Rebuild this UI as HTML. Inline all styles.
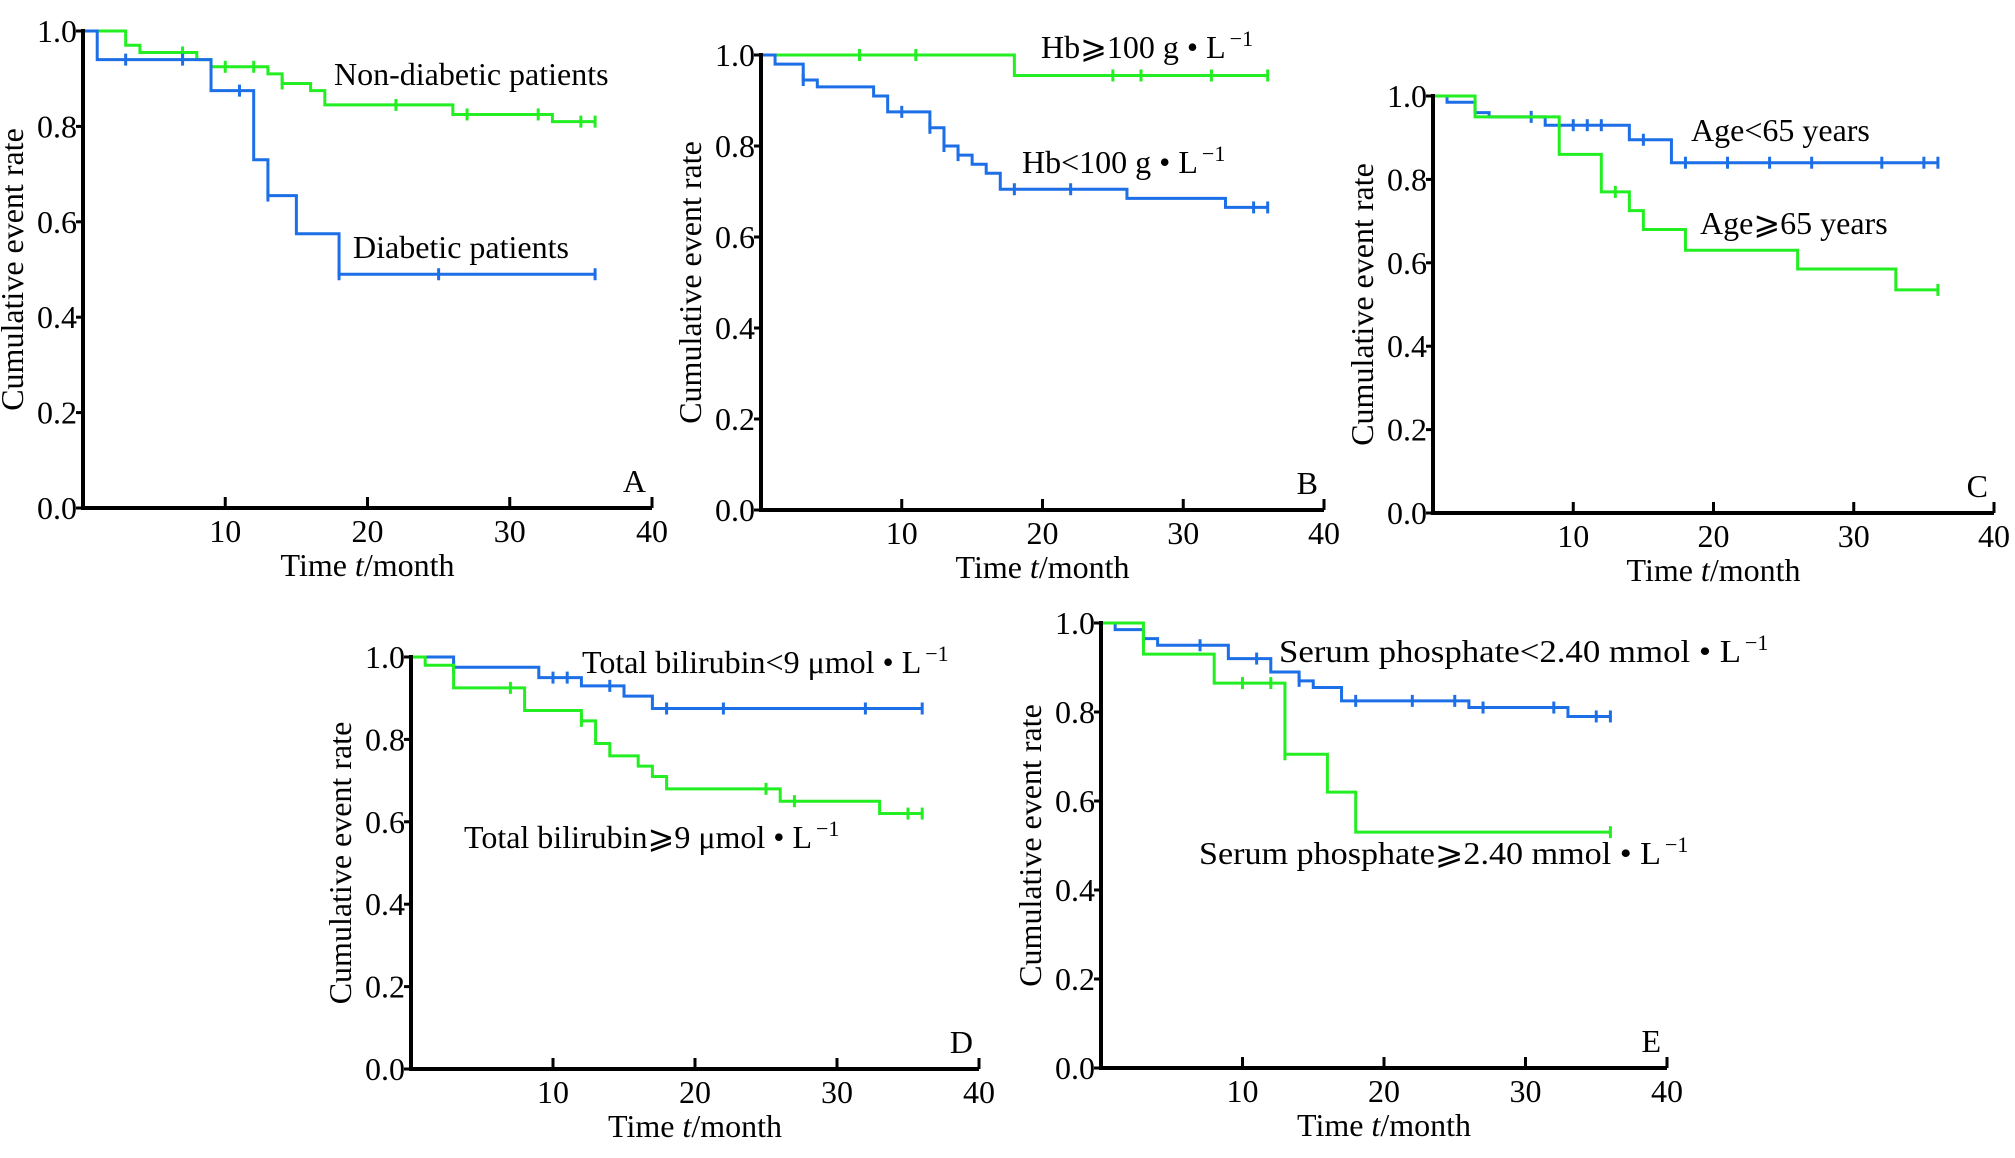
<!DOCTYPE html>
<html><head><meta charset="utf-8"><style>
html,body{margin:0;padding:0;background:#fff;}
svg{display:block;font-family:"Liberation Serif","DejaVu Serif",serif;}
</style></head><body>
<svg id="fig" width="2015" height="1158" viewBox="0 0 2015 1158" xmlns="http://www.w3.org/2000/svg"></svg>
<script>
// ---- data (time in months, rate) ----
const xTicks=[10,20,30,40];
const yTicks=[0,0.2,0.4,0.6,0.8,1.0];
const yTickLabels=["0.0","0.2","0.4","0.6","0.8","1.0"];
// Panel A
const aNonT=[0,3,4,8,9,13,14,16,17,26,33,36];
const aNonV=[1.0,0.97,0.955,0.94,0.925,0.91,0.89,0.875,0.845,0.825,0.81,0.81];
const aNonC=[7,10,12,14,22,27,32,35,36];
const aDiaT=[0,1,9,12,13,15,18,36];
const aDiaV=[1.0,0.94,0.875,0.73,0.655,0.575,0.49,0.49];
const aDiaC=[3,7,11,13,18,25,36];
// Panel B
const bHiT=[0,18,36];
const bHiV=[1.0,0.955,0.955];
const bHiC=[7,11,25,27,32,36];
const bLoT=[0,1,3,4,8,9,12,13,14,15,16,17,26,33,36];
const bLoV=[1.0,0.98,0.945,0.93,0.91,0.875,0.84,0.80,0.78,0.76,0.74,0.705,0.685,0.665,0.665];
const bLoC=[3,10,12,13,14,18,22,35,36];
// Panel C
const cYoungT=[0,1,3,4,8,14,17,36];
const cYoungV=[1.0,0.985,0.96,0.95,0.93,0.895,0.84,0.84];
const cYoungC=[7,10,11,12,15,18,21,24,27,32,35,36];
const cOldT=[0,3,9,12,14,15,18,26,33,36];
const cOldV=[1.0,0.95,0.86,0.77,0.725,0.68,0.63,0.585,0.535,0.535];
const cOldC=[13,36];
// Panel D
const dLoT=[0,3,9,12,15,17,36];
const dLoV=[1.0,0.975,0.95,0.93,0.905,0.875,0.875];
const dLoC=[3,10,11,14,18,22,32,36];
const dHiT=[0,1,3,8,12,13,14,16,17,18,26,33,36];
const dHiV=[1.0,0.98,0.925,0.87,0.845,0.79,0.76,0.735,0.71,0.68,0.65,0.62,0.62];
const dHiC=[7,12,25,27,35,36];
// Panel E
const eLoT=[0,1,3,4,9,12,14,15,17,26,33,36];
const eLoV=[1.0,0.985,0.965,0.95,0.92,0.89,0.87,0.855,0.825,0.81,0.79,0.79];
const eLoC=[3,7,11,14,18,22,25,27,32,35,36];
const eHiT=[0,3,8,13,16,18,36];
const eHiV=[1.0,0.93,0.865,0.705,0.62,0.53,0.53];
const eHiC=[10,12,13,36];

const G="#22ee22", B="#1c6fe6";
const NS="http://www.w3.org/2000/svg";
const svg=document.getElementById('fig');
function mk(tag,attrs,parent){const e=document.createElementNS(NS,tag);for(const k in attrs)e.setAttribute(k,attrs[k]);(parent||svg).appendChild(e);return e;}
const GE='\u2A7E';
const panels=[
 {id:'a',x0:83,x40:652,y0:508,y1:31,letter:'A',series:[
   {t:aNonT,v:aNonV,c:aNonC,col:G,name:'non-diabetic'},{t:aDiaT,v:aDiaV,c:aDiaC,col:B,name:'diabetic'}],
   labels:[{x:334,y:85,txt:'Non-diabetic patients'},{x:353,y:258,txt:'Diabetic patients'}]},
 {id:'b',x0:761,x40:1324,y0:510,y1:55,letter:'B',series:[
   {t:bHiT,v:bHiV,c:bHiC,col:G,name:'hb-high'},{t:bLoT,v:bLoV,c:bLoC,col:B,name:'hb-low'}],
   labels:[{x:1041,y:58,txt:'Hb'+GE+'100 g \u2022 L',sup:true},{x:1022,y:173,txt:'Hb<100 g \u2022 L',sup:true}]},
 {id:'c',x0:1433,x40:1994,y0:513,y1:96,letter:'C',series:[
   {t:cYoungT,v:cYoungV,c:cYoungC,col:B,name:'age-under-65'},{t:cOldT,v:cOldV,c:cOldC,col:G,name:'age-65-plus'}],
   labels:[{x:1691,y:141,txt:'Age<65 years'},{x:1700,y:234,txt:'Age'+GE+'65 years'}]},
 {id:'d',x0:411,x40:979,y0:1069,y1:657,letter:'D',series:[
   {t:dLoT,v:dLoV,c:dLoC,col:B,name:'bilirubin-low'},{t:dHiT,v:dHiV,c:dHiC,col:G,name:'bilirubin-high'}],
   labels:[{x:582,y:673,txt:'Total bilirubin<9 \u03bcmol \u2022 L',sup:true},{x:464,y:848,txt:'Total bilirubin'+GE+'9 \u03bcmol \u2022 L',sup:true}]},
 {id:'e',x0:1101,x40:1667,y0:1068,y1:623,letter:'E',series:[
   {t:eLoT,v:eLoV,c:eLoC,col:B,name:'phosphate-low'},{t:eHiT,v:eHiV,c:eHiC,col:G,name:'phosphate-high'}],
   labels:[{x:1279,y:662,txt:'Serum phosphate<2.40 mmol \u2022 L',sup:true,len:462},{x:1199,y:864,txt:'Serum phosphate'+GE+'2.40 mmol \u2022 L',sup:true,len:462}]}
];

panels.forEach(p=>{
  const sx=t=>p.x0+(p.x40-p.x0)*t/40;
  const sy=v=>p.y0-(p.y0-p.y1)*v;
  const g=mk('g',{});
  
  
  p.series.forEach(s=>{
    let d='M'+sx(s.t[0])+','+sy(s.v[0]);
    for(let i=1;i<s.t.length;i++){d+=' H'+sx(s.t[i])+' V'+sy(s.v[i]);}
    const path=mk('path',{d:d,fill:'none',stroke:s.col,'stroke-width':3},g);
    
    
    s.c.forEach(ct=>{
      let val=s.v[0];
      for(let i=0;i<s.t.length;i++){if(s.t[i]<=ct)val=s.v[i];}
      const cx=sx(ct),cy=sy(val);
      const m=mk('path',{d:'M'+cx+','+(cy-6)+' V'+(cy+6),stroke:s.col,'stroke-width':3},g);
      
      
    });
  });
  const ax=mk('path',{d:'M'+p.x0+','+(p.y1-2)+' V'+p.y0+' H'+p.x40,fill:'none',stroke:'#000','stroke-width':4},g);
  
  
  xTicks.forEach(t=>{
    mk('path',{d:'M'+sx(t)+','+p.y0+' V'+(p.y0-11),stroke:'#000','stroke-width':3},g);
    const tx=mk('text',{x:sx(t),y:p.y0+34,'text-anchor':'middle','font-size':32},g);
    tx.textContent=t;
    
    
  });
  yTicks.forEach((v,i)=>{
    mk('path',{d:'M'+(p.x0-7)+','+sy(v)+' H'+p.x0,stroke:'#000','stroke-width':3},g);
    const ty=mk('text',{x:p.x0-6,y:sy(v)+11,'text-anchor':'end','font-size':32},g);
    ty.textContent=yTickLabels[i];
    
    
  });
  const xt=mk('text',{x:sx(20),y:p.y0+68,'text-anchor':'middle','font-size':32},g);
  xt.innerHTML='Time <tspan font-style="italic">t</tspan>/month';
  
  
  const yc=(p.y0+p.y1)/2, yx=p.x0-60;
  const yt=mk('text',{x:yx,y:yc,'text-anchor':'middle','font-size':32,transform:'rotate(-90 '+yx+' '+yc+')'},g);
  yt.textContent='Cumulative event rate';
  
  
  const lt=mk('text',{x:p.x40-6,y:p.y0-16,'text-anchor':'end','font-size':32},g);
  lt.textContent=p.letter;
  
  
  p.labels.forEach(l=>{
    const attrs={x:l.x,y:l.y,'font-size':32};
    const te=mk('text',attrs,g);
    const main=mk('tspan',{},te);
    main.textContent=l.txt;
    if(l.len){main.setAttribute('textLength',l.len);main.setAttribute('lengthAdjust','spacingAndGlyphs');}
    if(l.sup){const ts=mk('tspan',{dx:4,dy:-12,'font-size':22},te);ts.textContent='\u22121';}
    
    
  });
});
</script>
</body></html>
